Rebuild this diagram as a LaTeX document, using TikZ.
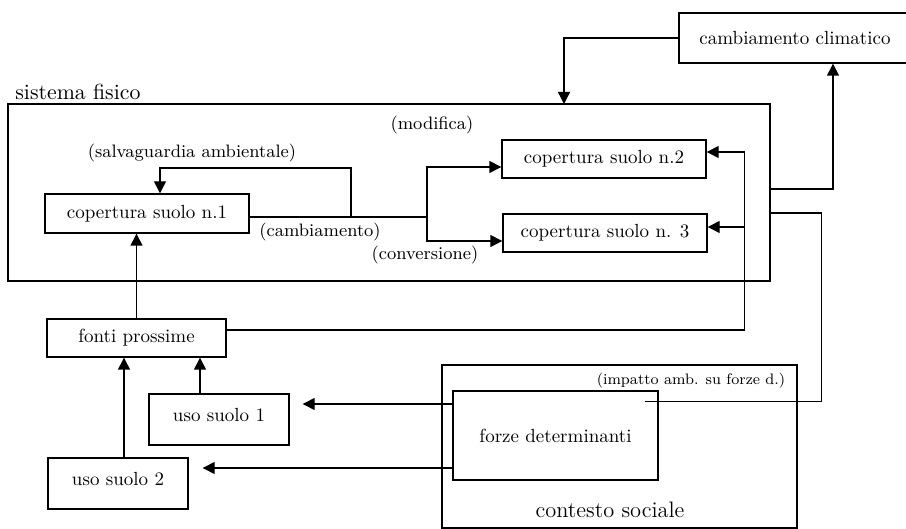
\documentclass[tikz,border=0pt]{standalone}
\usetikzlibrary{arrows.meta,calc}
\tikzset{
  box/.style={draw, line width=0.7pt, inner sep=0pt, minimum width=#1, font=\fontsize{9.5}{11}\selectfont},
  zone/.style={draw, line width=0.7pt, inner sep=0pt},
  lbl/.style={inner sep=0pt, font=\fontsize{9}{10}\selectfont},
  arr/.style={line width=0.7pt, -{Triangle[length=6pt,width=6pt]}},
  wire/.style={line width=0.7pt}
}
\begin{document}
\begin{tikzpicture}[x=0.5pt, y=-0.5pt]
    \useasboundingbox (0,0) rectangle (906,529);

    % Zones
    \node[zone, minimum width=381pt, minimum height=88.5pt] (fisico) at (389,192.5) {};
    \node[lbl, anchor=base west, font=\fontsize{10.9}{12}\selectfont] (fisicolbl) at (15,100) {sistema fisico};
    \node[zone, minimum width=177.5pt, minimum height=81.5pt] (sociale) at (619.5,446.5) {};
    \node[lbl, font=\fontsize{11.2}{13}\selectfont] (socialelbl) at (610,510) {contesto sociale};

    % Boxes
    \node[box=116pt, minimum height=25pt] (clima) at (795,38) {cambiamento climatico};
    \node[box=102pt, minimum height=19.5pt] (n1) at (147,213.5) {copertura suolo n.1};
    \node[box=102pt, minimum height=19pt] (n2) at (604,159) {copertura suolo n.2};
    \node[box=102pt, minimum height=19pt] (n3) at (605,233) {copertura suolo n. 3};
    \node[box=89.5pt, minimum height=19pt] (fonti) at (136.5,338) {fonti prossime};
    \node[box=70pt, minimum height=25.5pt, text depth=5pt] (uso1) at (219,419.5) {uso suolo 1};
    \node[box=70pt, minimum height=25.5pt, text depth=5pt] (uso2) at (118,483.5) {uso suolo 2};
    \node[box=102.5pt, minimum height=44.5pt] (forze) at (555.5,435.5) {forze determinanti};

    % Labels
    \node[lbl] (modifica) at (432,125) {(modifica)};
    \node[lbl] (salva) at (192,153) {(salvaguardia ambientale)};
    \node[lbl] (camb) at (320,232) {(cambiamento)};
    \node[lbl] (conv) at (425,255) {(conversione)};
    \node[lbl, font=\fontsize{7.6}{9}\selectfont] (impatto) at (691,381) {(impatto amb. su forze d.)};

    % Land cover change
    \coordinate (split) at (427,217);
    \coordinate (loop) at (351,217);
    \draw[wire] (n1.east |- split) -- (split);
    \draw[arr] (split) |- ($(n2.west)+(0,8)$);
    \draw[arr] (split) |- ($(n3.west)+(0,8)$);
    \draw[arr] (loop) -- ++(0,-49) -| ($(n1.north)+(13,0)$);

    % Climate
    \coordinate (fisin) at (564,104);
    \coordinate (fisout) at (770,189);
    \coordinate (fisfeed) at (770,213);
    \draw[arr] (clima.west) -| (fisin);
    \draw[arr] (fisout) -| ($(clima.south)+(38,0)$);

    % Proximate causes
    \draw[arr] (fonti.north) -- (fonti.north |- n1.south);
    \draw[arr] ($(fonti.east)+(0,-8)$) -| ($(n2.east)+(38,-7)$) -- ($(n2.east)+(0,-7)$);
    \draw[arr] ($(n3.east)+(37,-6)$) -- ($(n3.east)+(0,-6)$);
    \draw[arr] ($(uso1.north)+(-19,0)$) coordinate (u1) -- (u1 |- fonti.south);
    \draw[arr] ($(uso2.north)+(6,0)$) coordinate (u2) -- (u2 |- fonti.south);

    % Driving forces
    \draw[arr, shorten >=6.5pt] ($(forze.west)+(0,-31.5)$) coordinate (f1) -- (f1 -| uso1.east);
    \draw[arr, shorten >=7pt] ($(forze.west)+(0,32.5)$) coordinate (f2) -- (f2 -| uso2.east);
    \draw[wire] (fisfeed) -| ($(forze.north east)+(163,11)$) -- ($(forze.north east)+(-14,11)$);
\end{tikzpicture}
\end{document}
